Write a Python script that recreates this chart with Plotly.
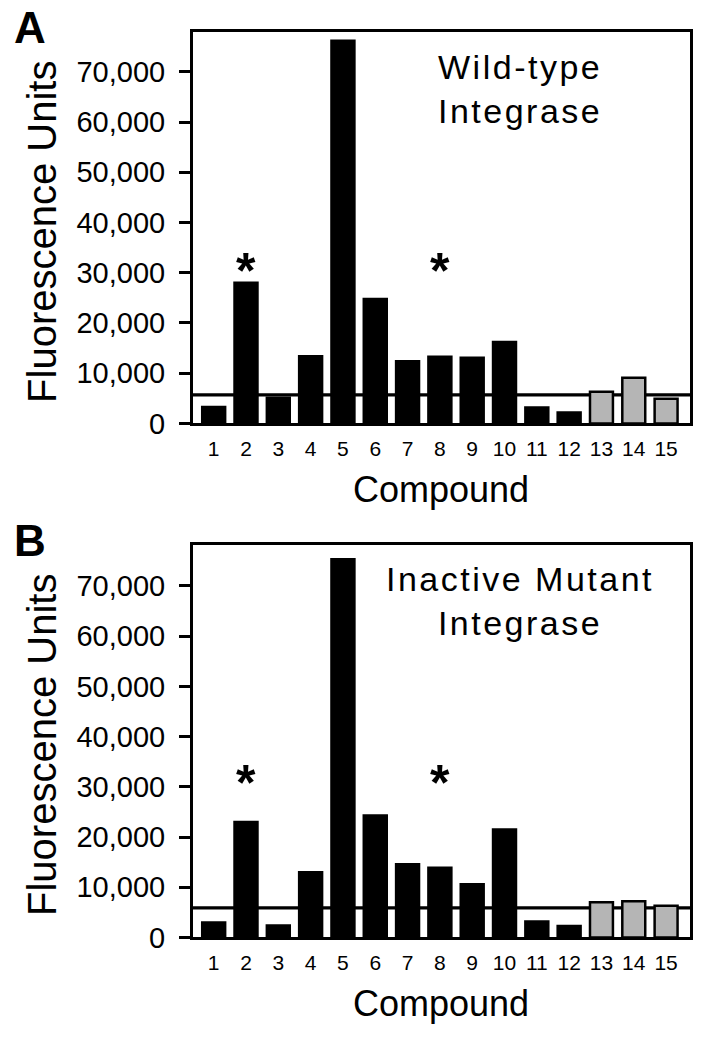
import plotly.graph_objects as go

# ---- data ----
compounds = list(range(1, 16))
tick_labels = [str(c) for c in compounds]
wild_type = [3300, 28000, 5100, 13400, 76200, 24800, 12400, 13300, 13100, 16200, 3200, 2200, 6300, 9100, 4900]
mutant = [3000, 23000, 2400, 13000, 75300, 24300, 14600, 13900, 10600, 21500, 3200, 2300, 7000, 7200, 6300]
threshold_wt = 5700
threshold_mut = 5900
star_compounds = [2, 8]
star_level_wt = 30300
star_level_mut = 30700
y_ticks = [0, 10000, 20000, 30000, 40000, 50000, 60000, 70000]

W, H = 702, 1050
FONT = "Liberation Sans, Arial, Helvetica, sans-serif"
bar_colors = ["black"] * 12 + ["#b5b5b5"] * 3


def px_x(p):
    return p / W


def px_y(p):
    return 1 - p / H


def spaced(text, sp):
    return "<br>".join(f'<span style="letter-spacing:{sp}px">{t}</span>' for t in text.split("\n"))


fig = go.Figure()

panels = [
    dict(vals=wild_type, thr=threshold_wt, star=star_level_wt, top=33, bottom=430,
         label="A", label_y=28, note="Wild-type\nIntegrase", xa="x", ya="y"),
    dict(vals=mutant, thr=threshold_mut, star=star_level_mut, top=553, bottom=952,
         label="B", label_y=549, note="Inactive Mutant\nIntegrase", xa="x2", ya="y2"),
]

left_px, right_px = 193, 690
layout_axes = {}
shapes = []
annotations = []

for i, p in enumerate(panels):
    fig.add_trace(go.Bar(
        x=compounds, y=p["vals"], xaxis=p["xa"], yaxis=p["ya"],
        marker=dict(color=bar_colors, line=dict(color="black", width=2.5)),
        width=0.71, showlegend=False, hoverinfo="skip",
    ))
    xkey = "xaxis" if i == 0 else "xaxis2"
    ykey = "yaxis" if i == 0 else "yaxis2"
    layout_axes[xkey] = dict(
        domain=[px_x(left_px), px_x(right_px)], anchor=p["ya"],
        range=[0.36, 15.74], tickmode="array", tickvals=compounds, ticktext=tick_labels,
        showline=True, linewidth=3, linecolor="black", mirror=True,
        ticks="", showgrid=False, zeroline=False, ticklabelstandoff=4,
        tickfont=dict(size=21, color="black", family=FONT),
    )
    ymax = (p["bottom"] - p["top"]) / 51.0 * 10000
    layout_axes[ykey] = dict(
        domain=[px_y(p["bottom"]), px_y(p["top"])], anchor=p["xa"],
        range=[0, ymax], tickmode="array", tickvals=y_ticks, tickformat=",d",
        ticks="outside", ticklen=11, tickwidth=3, tickcolor="black",
        showline=True, linewidth=3, linecolor="black", mirror=True,
        showgrid=False, zeroline=False, ticklabelstandoff=8,
        tickfont=dict(size=29, color="black", family=FONT),
    )
    shapes.append(dict(
        type="line", xref=f"{p['xa']} domain", yref=p["ya"], x0=0, x1=1,
        y0=p["thr"], y1=p["thr"], layer="below", line=dict(color="black", width=3.2),
    ))
    for s in star_compounds:
        annotations.append(dict(
            x=s, y=p["star"], xref=p["xa"], yref=p["ya"], text="<b>*</b>", showarrow=False,
            font=dict(size=50, color="black", family=FONT), yanchor="middle",
        ))
    # panel note
    annotations.append(dict(
        x=px_x(520), y=px_y(p["top"] + 57), xref="paper", yref="paper",
        text=spaced(p["note"], 2.5), showarrow=False, align="center",
        font=dict(size=34, color="black", family=FONT),
        xanchor="center", yanchor="middle",
    ))
    # panel letter
    annotations.append(dict(
        x=px_x(30), y=px_y(p["label_y"]), xref="paper", yref="paper",
        text=f"<b>{p['label']}</b>", showarrow=False,
        font=dict(size=44, color="black", family=FONT),
        xanchor="center", yanchor="middle",
    ))
    # axis titles
    annotations.append(dict(
        x=px_x(441), y=px_y(p["bottom"] + 67), xref="paper", yref="paper",
        text="Compound", showarrow=False,
        font=dict(size=36, color="black", family=FONT),
        xanchor="center", yanchor="middle",
    ))
    annotations.append(dict(
        x=px_x(42), y=px_y((p["top"] + p["bottom"]) / 2 + 4), xref="paper", yref="paper",
        text="Fluorescence Units", showarrow=False, textangle=-90,
        font=dict(size=40, color="black", family=FONT),
        xanchor="center", yanchor="middle",
    ))

fig.update_layout(
    width=W, height=H,
    margin=dict(l=0, r=0, t=0, b=0),
    paper_bgcolor="white", plot_bgcolor="white",
    bargap=0.29,
    shapes=shapes, annotations=annotations,
    font=dict(family=FONT, color="black"),
    hovermode=False,
    **layout_axes,
)

fig.write_html("out.html", config={"displayModeBar": False},
               post_script="document.body.style.margin='0';")
